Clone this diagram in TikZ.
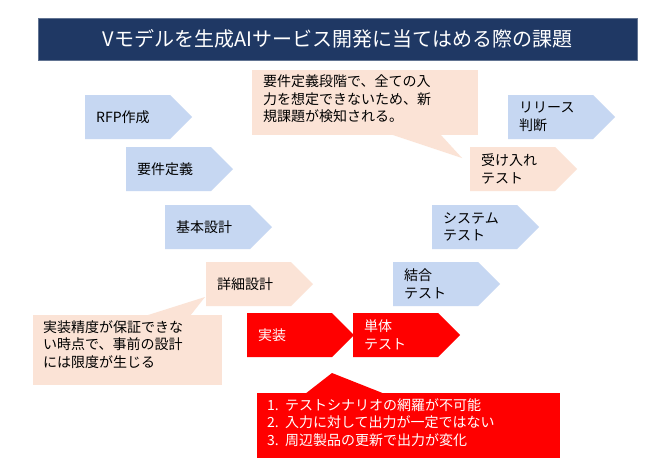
\documentclass[tikz,border=0pt]{standalone}
\usepackage{fontspec}
\setmainfont{Noto Sans CJK JP}
\definecolor{pblue}{HTML}{C6D7F2}
\definecolor{ppeach}{HTML}{FBE3D6}
\definecolor{pnavy}{HTML}{1F3864}
\newcommand\hp[6]{%
  \fill[#4] (#2,#3) -- ++(85,0) -- ++(22,22) -- ++(-22,22) -- ++(-85,0) -- cycle;
  \node[lbl, text=#5] (#1) at (#2+11,#3+22) {#6};}
\begin{document}
\begin{tikzpicture}[x=1pt,y=-1pt,
  lbl/.style={anchor=west, align=left, inner sep=0pt, font=\fontsize{14}{17.5}\selectfont}]
\useasboundingbox (0,0) rectangle (650,474);
\fill[white] (0,0) rectangle (650,474);
% title
\node[fill=pnavy, draw=pnavy!70, line width=1pt, text=white, minimum width=599pt, minimum height=42pt,
  font=\fontsize{20}{24}\selectfont, inner sep=0pt] (title) at (337.5,39) {Vモデルを生成AIサービス開発に当てはめる際の課題};
% phases
\hp{rfp}{85}{95}{pblue}{black}{RFP作成}
\hp{req}{126}{147}{pblue}{black}{要件定義}
\hp{bas}{165}{205}{pblue}{black}{基本設計}
\hp{det}{206}{262}{ppeach}{black}{詳細設計}
\hp{imp}{247}{313}{red}{white}{実装}
\hp{unit}{353}{313}{red}{white}{単体\\テスト}
\hp{integ}{393}{262}{pblue}{black}{結合\\テスト}
\hp{sys}{432}{205}{pblue}{black}{システム\\テスト}
\hp{acc}{470}{147}{ppeach}{black}{受け入れ\\テスト}
\hp{rel}{508}{95}{pblue}{black}{リリース\\判断}
% callouts
\fill[ppeach] (252,70) rectangle (478,135);
\fill[ppeach] (390,134) -- (462,158) -- (440,134) -- cycle;
\node[lbl, anchor=north west] (c1) at (263,75) {要件定義段階で、全ての入\\力を想定できないため、新\\規課題が検知される。};
\fill[ppeach] (33,315) rectangle (222,385);
\fill[ppeach] (145,316) -- (205,297) -- (190,316) -- cycle;
\node[lbl, anchor=north west] (c2) at (43,320) {実装精度が保証できな\\い時点で、事前の設計\\には限度が生じる};
\fill[red] (257,393) rectangle (560,458);
\fill[red] (305,394) -- (332,373) -- (385,394) -- cycle;
\node[lbl, anchor=north west, text=white] (c3) at (267,398) {1.\ \ テストシナリオの網羅が不可能\\2.\ \ 入力に対して出力が一定ではない\\3.\ \ 周辺製品の更新で出力が変化};
\end{tikzpicture}
\end{document}
